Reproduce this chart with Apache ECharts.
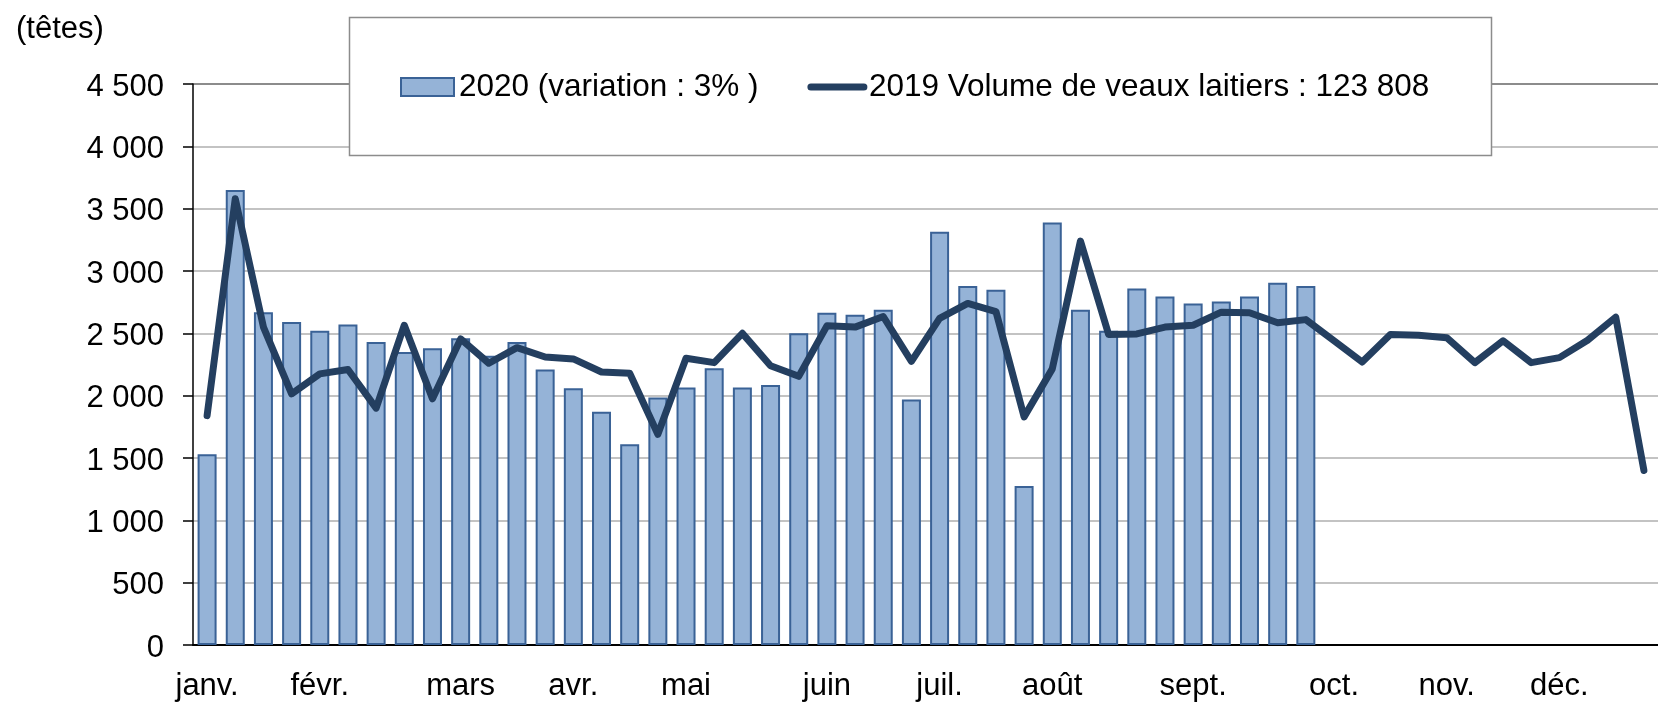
<!DOCTYPE html>
<html>
<head>
<meta charset="utf-8">
<title>Veaux laitiers</title>
<script src="https://cdn.jsdelivr.net/npm/echarts@6/dist/echarts.min.js"></script>
<style>
  html, body { margin: 0; padding: 0; background: #fff; }
  #chart { width: 1658px; height: 702px; }
</style>
</head>
<body>
<div id="chart"></div>
<script>
// semaines 1..52
var weeks = [];
for (var w = 1; w <= 52; w++) weeks.push('S' + w);

// mois affichés sous l'axe et semaine où ils tombent
var monthLabels = ['janv.', 'févr.', 'mars', 'avr.', 'mai', 'juin', 'juil.', 'août', 'sept.', 'oct.', 'nov.', 'déc.'];
var monthWeek = [0, 4, 9, 13, 17, 22, 26, 30, 35, 40, 44, 48];

var yTicks = [0, 500, 1000, 1500, 2000, 2500, 3000, 3500, 4000, 4500];

var name2020 = '2020 (variation : 3% )';
var name2019 = '2019 Volume de veaux laitiers : 123 808';

// 2020 : 40 semaines connues
var vol2020 = [1530, 3650, 2670, 2590, 2520, 2570, 2430, 2350, 2380, 2460,
  2320, 2430, 2210, 2060, 1870, 1610, 1985, 2065, 2220, 2065,
  2085, 2500, 2665, 2650, 2690, 1970, 3315, 2880, 2850, 1275,
  3390, 2690, 2520, 2860, 2795, 2740, 2755, 2795, 2905, 2880,
  null, null, null, null, null, null, null, null, null, null, null, null];

var vol2019 = [1840, 3580, 2550, 2015, 2175, 2210, 1900, 2565, 1975, 2455,
  2260, 2385, 2310, 2295, 2190, 2180, 1690, 2300, 2265, 2500,
  2240, 2155, 2560, 2550, 2635, 2275, 2620, 2740, 2675, 1830,
  2215, 3240, 2490, 2495, 2550, 2565, 2670, 2665, 2585, 2610,
  2440, 2270, 2490, 2485, 2465, 2265, 2440, 2265, 2305, 2445,
  2630, 1400];

var font = '"Liberation Sans", Arial, sans-serif';

function fmtThousands(v) {
  return String(v).replace(/\B(?=(\d{3})+$)/g, ' ');
}

var gridColors = yTicks.map(function (t, i) {
  return i === yTicks.length - 1 ? '#8c8c8c' : '#c3c3c3';
});

var chart = echarts.init(document.getElementById('chart'));

var option = {
  animation: false,
  backgroundColor: '#fff',
  textStyle: { fontFamily: font },
  title: {
    text: '(têtes)',
    left: 11,
    top: 9,
    textStyle: { fontFamily: font, fontSize: 31, fontWeight: 'normal', color: '#000' }
  },
  graphic: [{
    type: 'rect',
    z: 3,
    shape: { x: 349.5, y: 17.5, width: 1142, height: 138 },
    style: { fill: '#fff', stroke: '#8c8c8c', lineWidth: 1.5 }
  }],
  legend: {
    z: 5,
    left: 400,
    top: 71,
    padding: 0,
    itemWidth: 53,
    itemHeight: 18,
    itemGap: 49,
    textStyle: { fontFamily: font, fontSize: 31.5, color: '#000', lineHeight: 32 },
    data: [
      { name: name2020, icon: 'rect' },
      {
        name: name2019,
        itemStyle: { opacity: 0 },
        lineStyle: { width: 7, cap: 'round', color: '#243f60' }
      }
    ]
  },
  grid: {
    left: 193,
    right: -8,
    top: 84,
    bottom: 55,
    containLabel: false
  },
  xAxis: {
    type: 'category',
    data: weeks,
    boundaryGap: true,
    axisLine: { lineStyle: { color: '#000', width: 2 } },
    axisTick: { interval: 0, length: 10, lineStyle: { color: '#777', width: 1.5 } },
    axisLabel: {
      interval: 0,
      margin: 26,
      fontFamily: font,
      fontSize: 31,
      color: '#000',
      formatter: function (value, index) {
        var k = monthWeek.indexOf(index);
        return k >= 0 ? monthLabels[k] : '';
      }
    },
    splitLine: { show: false }
  },
  yAxis: {
    type: 'value',
    min: 0,
    max: 4500,
    interval: 500,
    axisLine: { show: true, lineStyle: { color: '#000', width: 1.5 } },
    axisTick: { show: true, length: 10, lineStyle: { color: '#000', width: 1.5 } },
    axisLabel: {
      margin: 29,
      verticalAlign: 'top',
      lineHeight: 6,
      fontFamily: font,
      fontSize: 31,
      color: '#000',
      formatter: fmtThousands
    },
    splitLine: { show: true, lineStyle: { color: gridColors, width: 2 } }
  },
  series: [
    {
      name: name2020,
      type: 'bar',
      data: vol2020,
      barWidth: 19,
      itemStyle: { color: '#95b3d7', borderColor: '#3a6296', borderWidth: 2 }
    },
    {
      name: name2019,
      type: 'line',
      data: vol2019,
      symbol: 'none',
      showSymbol: false,
      itemStyle: { color: '#243f60' },
      lineStyle: { color: '#243f60', width: 7, cap: 'round', join: 'round' }
    }
  ]
};

chart.setOption(option);
</script>
</body>
</html>
